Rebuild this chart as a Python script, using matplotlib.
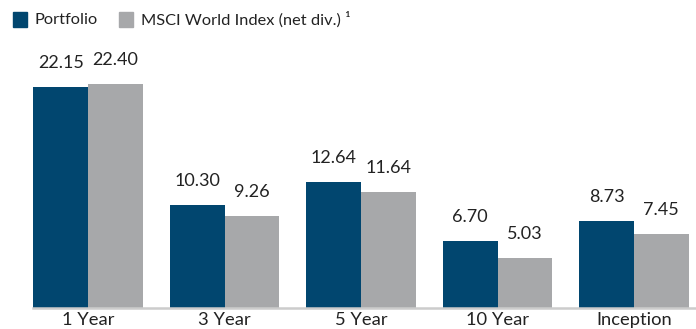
import matplotlib
matplotlib.use("Agg")
import matplotlib.pyplot as plt
from matplotlib.patches import Rectangle
import numpy as np

categories = ["1 Year", "3 Year", "5 Year", "10 Year", "Inception"]
portfolio = [22.15, 10.30, 12.64, 6.70, 8.73]
msci = [22.40, 9.26, 11.64, 5.03, 7.45]
series_names = ["Portfolio", "MSCI World Index (net div.) \u00b9"]

navy = "#01466F"
grey = "#A7A8AA"
text_col = "#222222"

plt.rcParams["font.family"] = ["Lato", "DejaVu Sans"]

fig = plt.figure(figsize=(6.96, 3.29), dpi=100)
ax = fig.add_axes([33 / 696, 21 / 329, 1 - 33 / 696, (308 - 40) / 329])

x = np.arange(len(categories))
w = 0.4
b1 = ax.bar(x - w / 2, portfolio, w, color=navy)
b2 = ax.bar(x + w / 2, msci, w, color=grey)

for bars, vals in ((b1, portfolio), (b2, msci)):
    for r, v in zip(bars, vals):
        ax.annotate(f"{v:.2f}", (r.get_x() + r.get_width() / 2, v),
                    xytext=(0, 11.5), textcoords="offset points",
                    ha="center", va="bottom", fontsize=13, color=text_col)

ax.set_xlim(-0.403, 4.454)
ax.set_ylim(0, 268 / 9.98)
ax.set_xticks(x)
ax.set_xticklabels(categories, fontsize=13.2, color=text_col)
ax.tick_params(axis="x", length=0, pad=3)
ax.set_yticks([])
for s in ("top", "right", "left"):
    ax.spines[s].set_visible(False)
ax.spines["bottom"].set_color("#CCCCCC")
ax.spines["bottom"].set_linewidth(1.8)

# legend drawn as figure-level swatches and labels
def swatch(x0, color, label):
    fig.patches.append(Rectangle((x0 / 696, 1 - 27 / 329), 14 / 696, 15 / 329,
                                 transform=fig.transFigure, color=color))
    fig.text((x0 + 22) / 696, 1 - 20 / 329, label, fontsize=11.8,
             color=text_col, va="center", ha="left")

swatch(13, navy, series_names[0])
swatch(119, grey, series_names[1])

fig.savefig("out.png", dpi=100)
